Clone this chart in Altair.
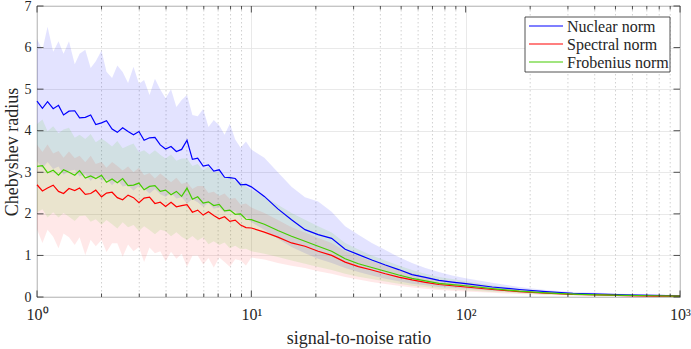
import altair as alt
import pandas as pd

# ---------------- data ----------------
snr = [1.00, 1.06, 1.12, 1.19, 1.26, 1.33, 1.41, 1.50, 1.58, 1.68,
       1.78, 1.88, 2.00, 2.11, 2.24, 2.37, 2.51, 2.66, 2.82, 2.99,
       3.16, 3.35, 3.55, 3.76, 3.98, 4.22, 4.47, 4.73, 5.01, 5.31,
       5.62, 5.96, 6.31, 6.68, 7.08, 7.50, 7.94, 8.41, 8.91, 9.44,
       10.0, 11.5, 13.3, 15.4, 17.8, 20.5, 23.7, 27.4, 31.6, 36.5,
       42.2, 48.7, 56.2, 64.9, 75.0, 86.6,
       100, 133, 178, 237, 316, 422, 562, 750, 1000]

nuclear_mean = [4.71, 4.54, 4.70, 4.53, 4.61, 4.38, 4.47, 4.48, 4.31, 4.32,
                4.38, 4.15, 4.19, 4.24, 4.04, 3.96, 4.07, 3.98, 3.90, 3.98,
                3.77, 3.83, 3.84, 3.66, 3.56, 3.62, 3.50, 3.55, 3.77, 3.31,
                3.34, 3.15, 3.18, 3.03, 3.06, 2.88, 2.87, 2.85, 2.70, 2.71,
                2.65, 2.42, 2.12, 1.86, 1.62, 1.50, 1.41, 1.15, 1.02, 0.89,
                0.77, 0.66, 0.54, 0.47, 0.40, 0.36,
                0.32, 0.24, 0.18, 0.13, 0.09, 0.07, 0.05, 0.04, 0.03]
nuclear_lo = [3.27, 3.10, 3.25, 3.08, 3.14, 2.94, 3.03, 3.06, 2.90, 2.95,
              2.79, 2.92, 2.80, 2.84, 2.69, 2.82, 2.66, 2.69, 2.56, 2.67,
              2.61, 2.49, 2.60, 2.47, 2.41, 2.50, 2.37, 2.40, 2.25, 2.35,
              2.28, 2.17, 2.26, 2.12, 2.16, 2.03, 2.06, 2.06, 1.91, 1.93,
              1.80, 1.62, 1.40, 1.20, 1.05, 0.92, 0.82, 0.70, 0.60, 0.52,
              0.44, 0.38, 0.32, 0.28, 0.24, 0.22,
              0.20, 0.15, 0.11, 0.08, 0.06, 0.04, 0.03, 0.02, 0.02]
nuclear_hi = [6.20, 5.95, 6.50, 5.90, 6.15, 5.85, 6.15, 5.60, 5.85, 5.95,
              5.51, 5.67, 5.93, 5.42, 5.27, 5.57, 5.41, 5.15, 5.54, 5.13,
              5.22, 4.86, 5.25, 4.99, 4.78, 5.00, 4.57, 4.74, 4.86, 4.38,
              4.35, 4.52, 4.09, 4.26, 4.13, 3.90, 4.17, 3.79, 3.59, 3.74,
              3.55, 3.35, 3.00, 2.65, 2.40, 2.30, 2.05, 1.70, 1.50, 1.30,
              1.13, 0.96, 0.82, 0.70, 0.60, 0.52,
              0.45, 0.34, 0.24, 0.17, 0.12, 0.10, 0.07, 0.06, 0.05]

spectral_mean = [2.70, 2.55, 2.62, 2.69, 2.54, 2.49, 2.61, 2.56, 2.62, 2.47,
                 2.49, 2.57, 2.41, 2.50, 2.52, 2.39, 2.34, 2.45, 2.39, 2.27,
                 2.38, 2.40, 2.25, 2.28, 2.18, 2.28, 2.17, 2.20, 2.22, 2.04,
                 2.09, 1.97, 2.05, 1.96, 1.88, 1.93, 1.82, 1.85, 1.73, 1.67,
                 1.66, 1.56, 1.44, 1.30, 1.22, 1.10, 1.00, 0.84, 0.73, 0.65,
                 0.56, 0.48, 0.41, 0.35, 0.30, 0.27,
                 0.24, 0.18, 0.13, 0.09, 0.06, 0.05, 0.03, 0.02, 0.02]
spectral_lo = [1.63, 1.30, 1.62, 1.45, 1.17, 1.53, 1.44, 1.25, 1.44, 1.01,
               1.38, 1.22, 1.37, 1.08, 1.29, 1.29, 0.97, 1.26, 1.10, 1.20,
               0.84, 1.19, 1.05, 1.10, 0.86, 1.09, 0.92, 1.04, 0.73, 0.99,
               1.00, 0.78, 0.94, 0.71, 0.95, 0.84, 0.73, 0.91, 0.88, 0.76,
               0.95, 0.90, 0.82, 0.75, 0.70, 0.62, 0.56, 0.48, 0.42, 0.36,
               0.31, 0.27, 0.23, 0.20, 0.17, 0.15,
               0.13, 0.10, 0.07, 0.05, 0.04, 0.03, 0.02, 0.01, 0.01]
spectral_hi = [3.66, 3.49, 3.67, 3.45, 3.51, 3.35, 3.50, 3.34, 3.40, 3.24,
               3.40, 3.20, 3.25, 3.11, 3.25, 3.15, 3.04, 3.14, 3.00, 3.11,
               2.93, 2.98, 2.85, 2.97, 2.87, 2.76, 2.87, 2.72, 2.76, 2.60,
               2.67, 2.67, 2.50, 2.53, 2.43, 2.49, 2.36, 2.38, 2.22, 2.25,
               2.15, 2.02, 1.85, 1.68, 1.55, 1.42, 1.30, 1.10, 0.98, 0.86,
               0.76, 0.66, 0.57, 0.49, 0.42, 0.38,
               0.34, 0.25, 0.18, 0.13, 0.09, 0.07, 0.05, 0.04, 0.03]

frobenius_mean = [3.14, 3.16, 2.99, 3.05, 2.93, 3.06, 3.00, 2.93, 3.04, 2.86,
                  2.91, 2.85, 2.93, 2.76, 2.84, 2.75, 2.85, 2.68, 2.69, 2.74,
                  2.58, 2.66, 2.68, 2.54, 2.57, 2.46, 2.54, 2.42, 2.62, 2.35,
                  2.41, 2.26, 2.29, 2.20, 2.23, 2.07, 2.09, 1.99, 2.00, 1.87,
                  1.86, 1.75, 1.60, 1.46, 1.34, 1.22, 1.10, 0.92, 0.80, 0.71,
                  0.62, 0.53, 0.45, 0.39, 0.33, 0.30,
                  0.27, 0.20, 0.14, 0.10, 0.07, 0.05, 0.04, 0.03, 0.02]
frobenius_lo = [2.03, 2.11, 1.91, 2.04, 1.91, 2.02, 1.93, 1.83, 1.95, 1.96,
                1.81, 1.87, 1.74, 1.85, 1.75, 1.65, 1.80, 1.68, 1.73, 1.59,
                1.70, 1.61, 1.51, 1.62, 1.58, 1.46, 1.56, 1.45, 1.37, 1.47,
                1.36, 1.44, 1.27, 1.34, 1.25, 1.31, 1.17, 1.23, 1.15, 1.16,
                1.10, 1.04, 0.96, 0.88, 0.80, 0.72, 0.65, 0.56, 0.49, 0.43,
                0.37, 0.32, 0.27, 0.24, 0.20, 0.18,
                0.16, 0.12, 0.09, 0.06, 0.04, 0.03, 0.02, 0.02, 0.01]
frobenius_hi = [4.16, 4.27, 3.99, 4.11, 3.94, 4.03, 4.07, 3.83, 3.90, 3.80,
                3.92, 3.72, 3.81, 3.73, 3.62, 3.75, 3.58, 3.64, 3.69, 3.48,
                3.53, 3.43, 3.53, 3.42, 3.33, 3.43, 3.28, 3.33, 3.33, 3.15,
                3.20, 3.05, 3.14, 3.00, 3.01, 2.87, 2.93, 2.78, 2.77, 2.66,
                2.58, 2.42, 2.22, 2.02, 1.86, 1.70, 1.55, 1.30, 1.14, 1.00,
                0.88, 0.76, 0.65, 0.56, 0.48, 0.43,
                0.38, 0.28, 0.20, 0.14, 0.10, 0.07, 0.05, 0.04, 0.03]

series_names = ["Nuclear norm", "Spectral norm", "Frobenius norm"]
line_colors = ["#0000ff", "#ff0000", "#44cc00"]
band_colors = ["#0000ff", "#ff3030", "#44cc00"]

x_major = [1, 10, 100, 1000]
x_minor = [2, 3, 4, 5, 6, 7, 8, 9, 20, 30, 40, 50, 60, 70, 80, 90,
           200, 300, 400, 500, 600, 700, 800, 900]
y_ticks = [0, 1, 2, 3, 4, 5, 6, 7]

# ---------------- tables ----------------
means = [nuclear_mean, spectral_mean, frobenius_mean]
los = [nuclear_lo, spectral_lo, frobenius_lo]
his = [nuclear_hi, spectral_hi, frobenius_hi]
frames = []
for name, m, lo, hi in zip(series_names, means, los, his):
    frames.append(pd.DataFrame({"x": snr, "y": m, "lo": lo, "hi": hi, "series": name}))
df = pd.concat(frames, ignore_index=True)

W, H = 643, 291
FONT = "Liberation Serif"
TXT = "#262626"

xscale = alt.Scale(type="log", domain=[1, 1000], nice=False)
yscale = alt.Scale(domain=[0, 7], nice=False)

label_expr = ("datum.value == 1 ? '10\u2070' : datum.value == 10 ? '10\u00b9' : "
              "datum.value == 100 ? '10\u00b2' : '10\u00b3'")
x_axis = alt.Axis(values=x_major, labelExpr=label_expr, ticks=False, domain=False,
                  grid=True, gridColor="#e3e3e3", gridWidth=0.8,
                  labelFont=FONT, labelFontSize=16, labelColor=TXT, labelPadding=9,
                  labelFlush=False,
                  title="signal-to-noise ratio", titleFont=FONT, titleFontSize=18,
                  titleFontWeight="normal", titleColor=TXT, titlePadding=7)
y_axis = alt.Axis(values=y_ticks, ticks=False, domain=False, grid=True,
                  gridColor="#e3e3e3", gridWidth=0.8,
                  labelFont=FONT, labelFontSize=14, labelColor=TXT, labelPadding=6,
                  title="Chebyshev radius", titleFont=FONT, titleFontSize=18,
                  titleFontWeight="normal", titleColor=TXT, titlePadding=3)

X = alt.X("x:Q", scale=xscale, axis=x_axis)
Y = alt.Y("y:Q", scale=yscale, axis=y_axis)

minor_df = pd.DataFrame({"x": x_minor})
major_df = pd.DataFrame({"x": x_major})
ytick_df = pd.DataFrame({"y": y_ticks})

minor_grid = alt.Chart(minor_df).mark_rule(
    color="#bdbdbd", strokeDash=[1.5, 2.5], strokeWidth=0.7
).encode(x=X)

layers = [minor_grid]
for name, col in zip(series_names, band_colors):
    layers.append(
        alt.Chart(df).transform_filter(alt.datum.series == name)
        .mark_area(color=col, opacity=0.11, interpolate="linear")
        .encode(x=X, y=alt.Y("lo:Q", scale=yscale, axis=y_axis), y2="hi:Q")
    )

lines = alt.Chart(df).mark_line(strokeWidth=1.2).encode(
    x=X, y=Y,
    color=alt.Color("series:N",
                    scale=alt.Scale(domain=series_names, range=line_colors),
                    sort=series_names, legend=None),
    order=alt.Order("x:Q"),
)
layers.append(lines)

tick_col = "#262626"
ticks = [
    alt.Chart(major_df).mark_rule(color=tick_col, strokeWidth=0.8).encode(
        x=X, y=alt.value(H), y2=alt.value(H - 6.5)),
    alt.Chart(major_df).mark_rule(color=tick_col, strokeWidth=0.8).encode(
        x=X, y=alt.value(0), y2=alt.value(6.5)),
    alt.Chart(minor_df).mark_rule(color=tick_col, strokeWidth=0.8).encode(
        x=X, y=alt.value(H), y2=alt.value(H - 3.5)),
    alt.Chart(minor_df).mark_rule(color=tick_col, strokeWidth=0.8).encode(
        x=X, y=alt.value(0), y2=alt.value(3.5)),
    alt.Chart(ytick_df).mark_rule(color=tick_col, strokeWidth=0.8).encode(
        y=Y, x=alt.value(0), x2=alt.value(6.5)),
    alt.Chart(ytick_df).mark_rule(color=tick_col, strokeWidth=0.8).encode(
        y=Y, x=alt.value(W), x2=alt.value(W - 6.5)),
]
layers.extend(ticks)

# ---------------- legend box (MATLAB style, upper right) ----------------
one = pd.DataFrame({"k": [0]})
LX0, LX1, LY0, LY1 = 488, 633, 11, 66
layers.append(
    alt.Chart(one).mark_rect(fill="white", stroke="#262626", strokeWidth=0.8).encode(
        x=alt.value(LX0), x2=alt.value(LX1), y=alt.value(LY0), y2=alt.value(LY1))
)
row_y = [20, 38, 56]
for name, col, ry in zip(series_names, line_colors, row_y):
    layers.append(
        alt.Chart(one).mark_rule(strokeWidth=1.1).encode(
            x=alt.value(LX0 + 4), x2=alt.value(LX0 + 38), y=alt.value(ry),
            color=alt.value(col))
    )
    layers.append(
        alt.Chart(one).mark_text(align="left", baseline="middle", font=FONT,
                                 fontSize=16, color=TXT).encode(
            x=alt.value(LX0 + 42), y=alt.value(ry + 1), text=alt.value(name))
    )

chart = alt.layer(*layers).properties(
    width=W, height=H,
    autosize=alt.AutoSizeParams(type="none"),
    padding={"left": 37, "top": 6, "right": 11, "bottom": 52},
    background="white",
).configure_view(stroke="#262626", strokeWidth=0.9)

chart.save("out.html", embed_options={"renderer": "svg", "actions": False})
